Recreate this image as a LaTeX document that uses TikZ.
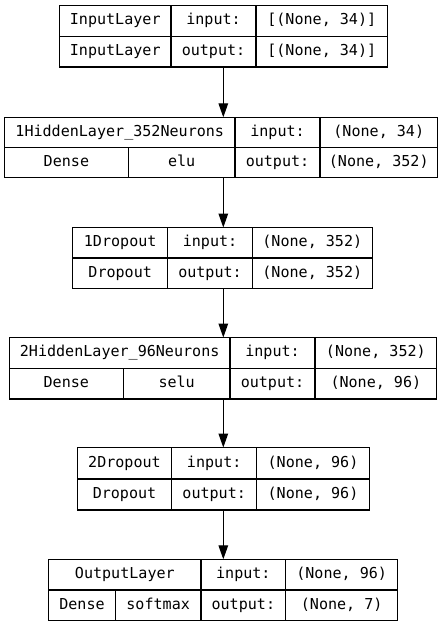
\documentclass[tikz,border=0pt]{standalone}
\usepackage{fontspec}
\setmainfont{DejaVu Sans Mono}
\usetikzlibrary{arrows.meta}
\tikzset{
  cell/.style={draw=black, line width=0.85pt, inner sep=0pt, outer sep=0pt,
    font=\fontsize{11.3}{13}\selectfont, text height=8.2pt, text depth=2.2pt, anchor=center},
  arr/.style={draw=black, line width=0.85pt, -{Triangle[length=10.5pt,width=7.2pt]}}
}
\newcommand\mkcell[6]{%
  \pgfmathsetmacro\cw{(#4-#2)*0.75}%
  \pgfmathsetmacro\ch{(#5-#3)*0.75}%
  \node[cell,minimum width=\cw pt,minimum height=\ch pt] (#1) at ({(#2+#4)/2},{(#3+#5)/2}) {#6};}
\begin{document}
\begin{tikzpicture}[x=0.75pt,y=-0.75pt]
\useasboundingbox (0,0) rectangle (447,627);
\coordinate (ax) at (223.3,0);
% Box 1
\mkcell{a1}{59.5}{5.5}{171}{36.2}{InputLayer}
\mkcell{a2}{171}{5.5}{256}{36.2}{input:}
\mkcell{a3}{256}{5.5}{387.5}{36.2}{[(None, 34)]}
\mkcell{a4}{59.5}{36.2}{171}{67}{InputLayer}
\mkcell{a5}{171}{36.2}{256}{67}{output:}
\mkcell{a6}{256}{36.2}{387.5}{67}{[(None, 34)]}
% Box 2
\mkcell{b1}{4.5}{117.3}{235}{147.5}{1HiddenLayer\_352Neurons}
\mkcell{b2}{235}{117.3}{320}{147.5}{input:}
\mkcell{b3}{320}{117.3}{437.5}{147.5}{(None, 34)}
\mkcell{b4}{4.5}{147.5}{128.3}{177.8}{Dense}
\mkcell{b5}{128.3}{147.5}{235}{177.8}{elu}
\mkcell{b6}{235}{147.5}{320}{177.8}{output:}
\mkcell{b7}{320}{147.5}{437.5}{177.8}{(None, 352)}
% Box 3
\mkcell{c1}{72.7}{227.5}{167.7}{258}{1Dropout}
\mkcell{c2}{167.7}{227.5}{252.3}{258}{input:}
\mkcell{c3}{252.3}{227.5}{372.3}{258}{(None, 352)}
\mkcell{c4}{72.7}{258}{167.7}{288.3}{Dropout}
\mkcell{c5}{167.7}{258}{252.3}{288.3}{output:}
\mkcell{c6}{252.3}{258}{372.3}{288.3}{(None, 352)}
% Box 4
\mkcell{d1}{9.3}{337.5}{230}{368.3}{2HiddenLayer\_96Neurons}
\mkcell{d2}{230}{337.5}{315}{368.3}{input:}
\mkcell{d3}{315}{337.5}{436.7}{368.3}{(None, 352)}
\mkcell{d4}{9.3}{368.3}{123.3}{399}{Dense}
\mkcell{d5}{123.3}{368.3}{230}{399}{selu}
\mkcell{d6}{230}{368.3}{315}{399}{output:}
\mkcell{d7}{315}{368.3}{436.7}{399}{(None, 96)}
% Box 5
\mkcell{e1}{77.3}{447.5}{171.7}{479}{2Dropout}
\mkcell{e2}{171.7}{447.5}{256.7}{479}{input:}
\mkcell{e3}{256.7}{447.5}{369.3}{479}{(None, 96)}
\mkcell{e4}{77.3}{479}{171.7}{510}{Dropout}
\mkcell{e5}{171.7}{479}{256.7}{510}{output:}
\mkcell{e6}{256.7}{479}{369.3}{510}{(None, 96)}
% Box 6
\mkcell{f1}{48.7}{559.3}{201}{590}{OutputLayer}
\mkcell{f2}{201}{559.3}{285.7}{590}{input:}
\mkcell{f3}{285.7}{559.3}{397.7}{590}{(None, 96)}
\mkcell{f4}{48.7}{590}{115.3}{620.7}{Dense}
\mkcell{f5}{115.3}{590}{201}{620.7}{softmax}
\mkcell{f6}{201}{590}{285.7}{620.7}{output:}
\mkcell{f7}{285.7}{590}{397.7}{620.7}{(None, 7)}
% Arrows
\draw[arr] (a5.south -| ax) -- (b1.north -| ax);
\draw[arr] (b5.south -| ax) -- (c2.north -| ax);
\draw[arr] (c5.south -| ax) -- (d1.north -| ax);
\draw[arr] (d5.south -| ax) -- (e2.north -| ax);
\draw[arr] (e5.south -| ax) -- (f2.north -| ax);
\end{tikzpicture}
\end{document}
